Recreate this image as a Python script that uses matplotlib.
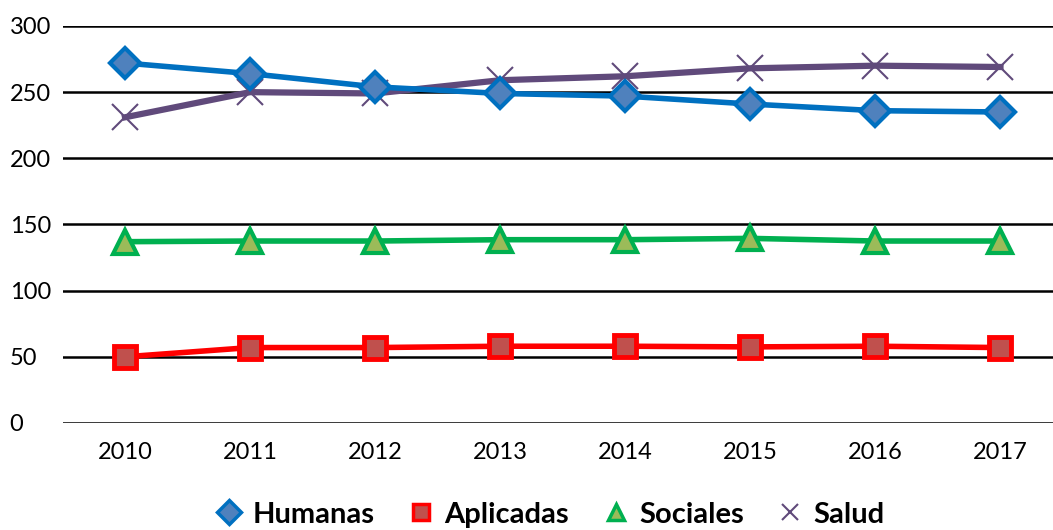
import matplotlib
matplotlib.use("Agg")
from matplotlib import pyplot as plt
from matplotlib.lines import Line2D

years = ['2010', '2011', '2012', '2013', '2014', '2015', '2016', '2017']
humanas = [272, 264, 254, 249, 247, 241, 236, 235]
aplicadas = [50, 57, 57, 58, 58, 57.5, 58, 57]
sociales = [137, 137.5, 137.5, 138.5, 138.5, 139.5, 137.5, 137.5]
salud = [231, 250, 249, 259, 262, 268, 270, 269]

plt.rcParams['font.family'] = ['Lato', 'DejaVu Sans']

fig = plt.figure(figsize=(10.53, 5.3), dpi=100)
ax = fig.add_axes([62.5 / 1053, 0.2019, 1 - 62.5 / 1053, 0.951 - 0.2019])

x = list(range(len(years)))
styles = [
    (humanas, 'Humanas', dict(color='#0070C0', lw=4, marker='D', ms=15,
                              mfc='#4F81BD', mec='#0070C0', mew=3, zorder=4)),
    (aplicadas, 'Aplicadas', dict(color='#FF0000', lw=4, marker='s', ms=16,
                                  mfc='#C0504D', mec='#FF0000', mew=3.5, zorder=4)),
    (sociales, 'Sociales', dict(color='#00B050', lw=4, marker='^', ms=17,
                                mfc='#9BBB59', mec='#00B050', mew=3, zorder=4)),
    (salud, 'Salud', dict(color='#604A7B', lw=4.5, marker='x', ms=19,
                          mec='#604A7B', mew=1.5, zorder=3)),
]
handles = []
for vals, name, st in styles:
    ax.plot(x, vals, **st)
    hs = dict(st)
    hs['ms'] = 12
    hs['mew'] = 2.5 if st['marker'] != 'x' else 1.5
    hs.pop('lw')
    hs.pop('zorder')
    handles.append(Line2D([], [], ls='none', label=name, **hs))

ax.set_ylim(0, 300)
ax.set_yticks(range(0, 301, 50))
ax.set_xlim(-0.5, 7.42)
ax.set_xticks(x)
ax.set_xticklabels(years)
ax.grid(axis='y', color='black', lw=1.8)
ax.set_axisbelow(True)
for s in ax.spines.values():
    s.set_visible(False)
ax.tick_params(length=0, labelsize=17)
ax.tick_params(axis='x', pad=14)
ax.tick_params(axis='y', pad=38)
for lab in ax.get_yticklabels():
    lab.set_horizontalalignment('left')

fig.legend(handles=handles, loc='lower center', bbox_to_anchor=(0.522, -0.045),
           ncol=4, frameon=False, prop={'weight': 'bold', 'size': 21},
           handlelength=1.0, columnspacing=1.1, handletextpad=0.3)

fig.savefig('out.png', dpi=100)
